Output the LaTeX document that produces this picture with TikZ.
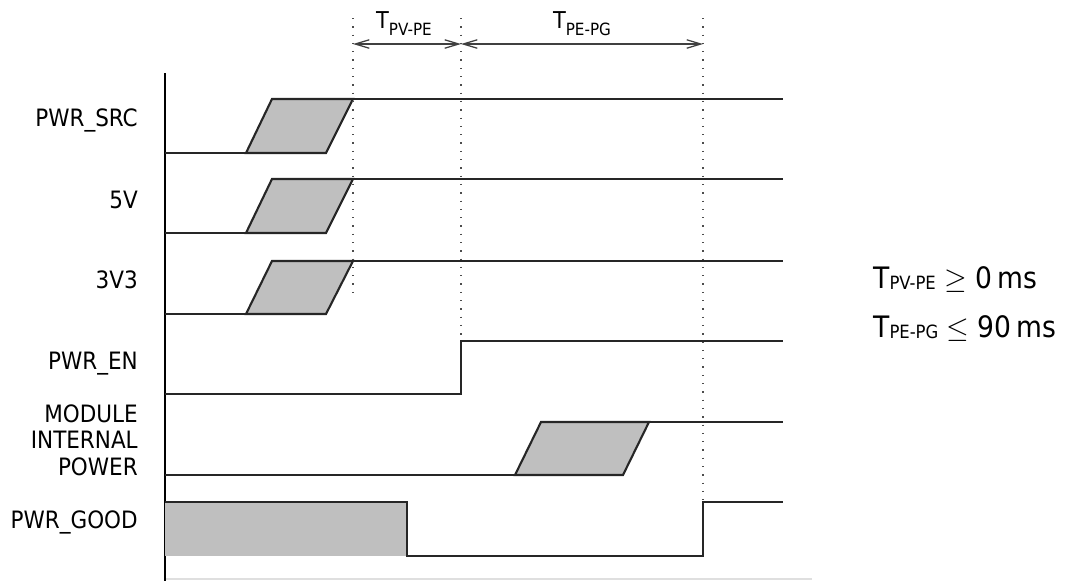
\documentclass[tikz,border=0pt]{standalone}
\usepackage{fontspec}
\setmainfont{DejaVu Sans Condensed}
\usetikzlibrary{arrows.meta}
\newcommand{\tsig}[3]{T\raisebox{#3}{\fontsize{#2}{#2}\selectfont #1}}
\newcommand{\us}{\symbol{95}}

\begin{document}
\begin{tikzpicture}[x = 0.025cm, y = -0.025cm, sig/.style = {draw = black!85, line width = 1.5pt}, ramp/.style = {sig, fill = gray!50}, guide/.style = {draw = black!70, line width = 0.9pt, dash pattern = on 0.9pt off 5pt}, dim/.style = {draw = black!75, line width = 0.9pt, {Straight Barb[length = 10pt, width = 6pt]}-{Straight Barb[length = 10pt, width = 6pt]}}, lbl/.style = {inner sep = 0pt, anchor = base east, align = right, font = \fontsize{17}{18.8}\selectfont}]
	\useasboundingbox (0,0) rectangle (1072,581);
	% signal names
	\node[lbl] (src) at (138,126) {PWR\us SRC};
	\node[lbl] (v5) at (138,208) {5V};
	\node[lbl] (v33) at (138,288) {3V3};
	\node[lbl] (en) at (138,369) {PWR\us EN};
	\node[lbl] (mip) at (138,475) {MODULE\\INTERNAL\\POWER};
	\node[lbl] (pg) at (138,528) {PWR\us GOOD};
	% axis
	\draw[gray!25, line width = 0.8pt] (165,579) -- (812,579);
	\draw[black, line width = 2pt] (165,73) -- (165,581);
	% PWR_SRC, 5V, 3V3
	\filldraw[ramp] (246,153) -- (272,99) -- (353,99) -- (326,153) -- cycle;
	\draw[sig] (165,153) -- (246,153);
	\draw[sig] (353,99) -- (783,99);
	\filldraw[ramp] (246,233) -- (272,179) -- (353,179) -- (326,233) -- cycle;
	\draw[sig] (165,233) -- (246,233);
	\draw[sig] (353,179) -- (783,179);
	\filldraw[ramp] (246,314) -- (272,261) -- (353,261) -- (326,314) -- cycle;
	\draw[sig] (165,314) -- (246,314);
	\draw[sig] (353,261) -- (783,261);
	% PWR_EN
	\draw[sig] (165,394) -- (461,394) -- (461,341) -- (783,341);
	% module internal power
	\filldraw[ramp] (515,475) -- (541,422) -- (649,422) -- (623,475) -- cycle;
	\draw[sig] (165,475) -- (515,475);
	\draw[sig] (649,422) -- (783,422);
	% PWR_GOOD
	\fill[gray!50] (165,502) rectangle (407,556);
	\draw[sig] (165,502) -- (407,502) -- (407,556) -- (703,556) -- (703,502) -- (783,502);
	% timing marks
	\coordinate (g1) at (353,18);
	\coordinate (g1b) at (353,300);
	\coordinate (g2) at (461,18);
	\coordinate (g2b) at (461,341);
	\coordinate (g3) at (703,18);
	\coordinate (g3b) at (703,502);
	\draw[guide] (g1) -- (g1b);
	\draw[guide] (g2) -- (g2b);
	\draw[guide] (g3) -- (g3b);
	\coordinate (d1) at (353,44);
	\coordinate (d2) at (461,44);
	\coordinate (d3) at (703,44);
	\draw[dim] (d1) -- (d2);
	\draw[dim] (d2) -- (d3);
	\node[inner sep = 0pt, anchor = base, font = \fontsize{16.5}{16.5}\selectfont] (t1) at (404,28) {\tsig{PV-PE}{12}{-5pt}};
	\node[inner sep = 0pt, anchor = base, font = \fontsize{16.5}{16.5}\selectfont] (t2) at (582,28) {\tsig{PE-PG}{12}{-5pt}};
	% limits
	\node[inner sep = 0pt, anchor = base west, font = \fontsize{21}{21}\selectfont] (c1) at (873,288) {\tsig{PV-PE}{13}{-1pt} $\geq$ 0\,ms};
	\node[inner sep = 0pt, anchor = base west, font = \fontsize{21}{21}\selectfont] (c2) at (873,337) {\tsig{PE-PG}{13}{-1pt} $\leq$ 90\,ms};
\end{tikzpicture}
\end{document}
